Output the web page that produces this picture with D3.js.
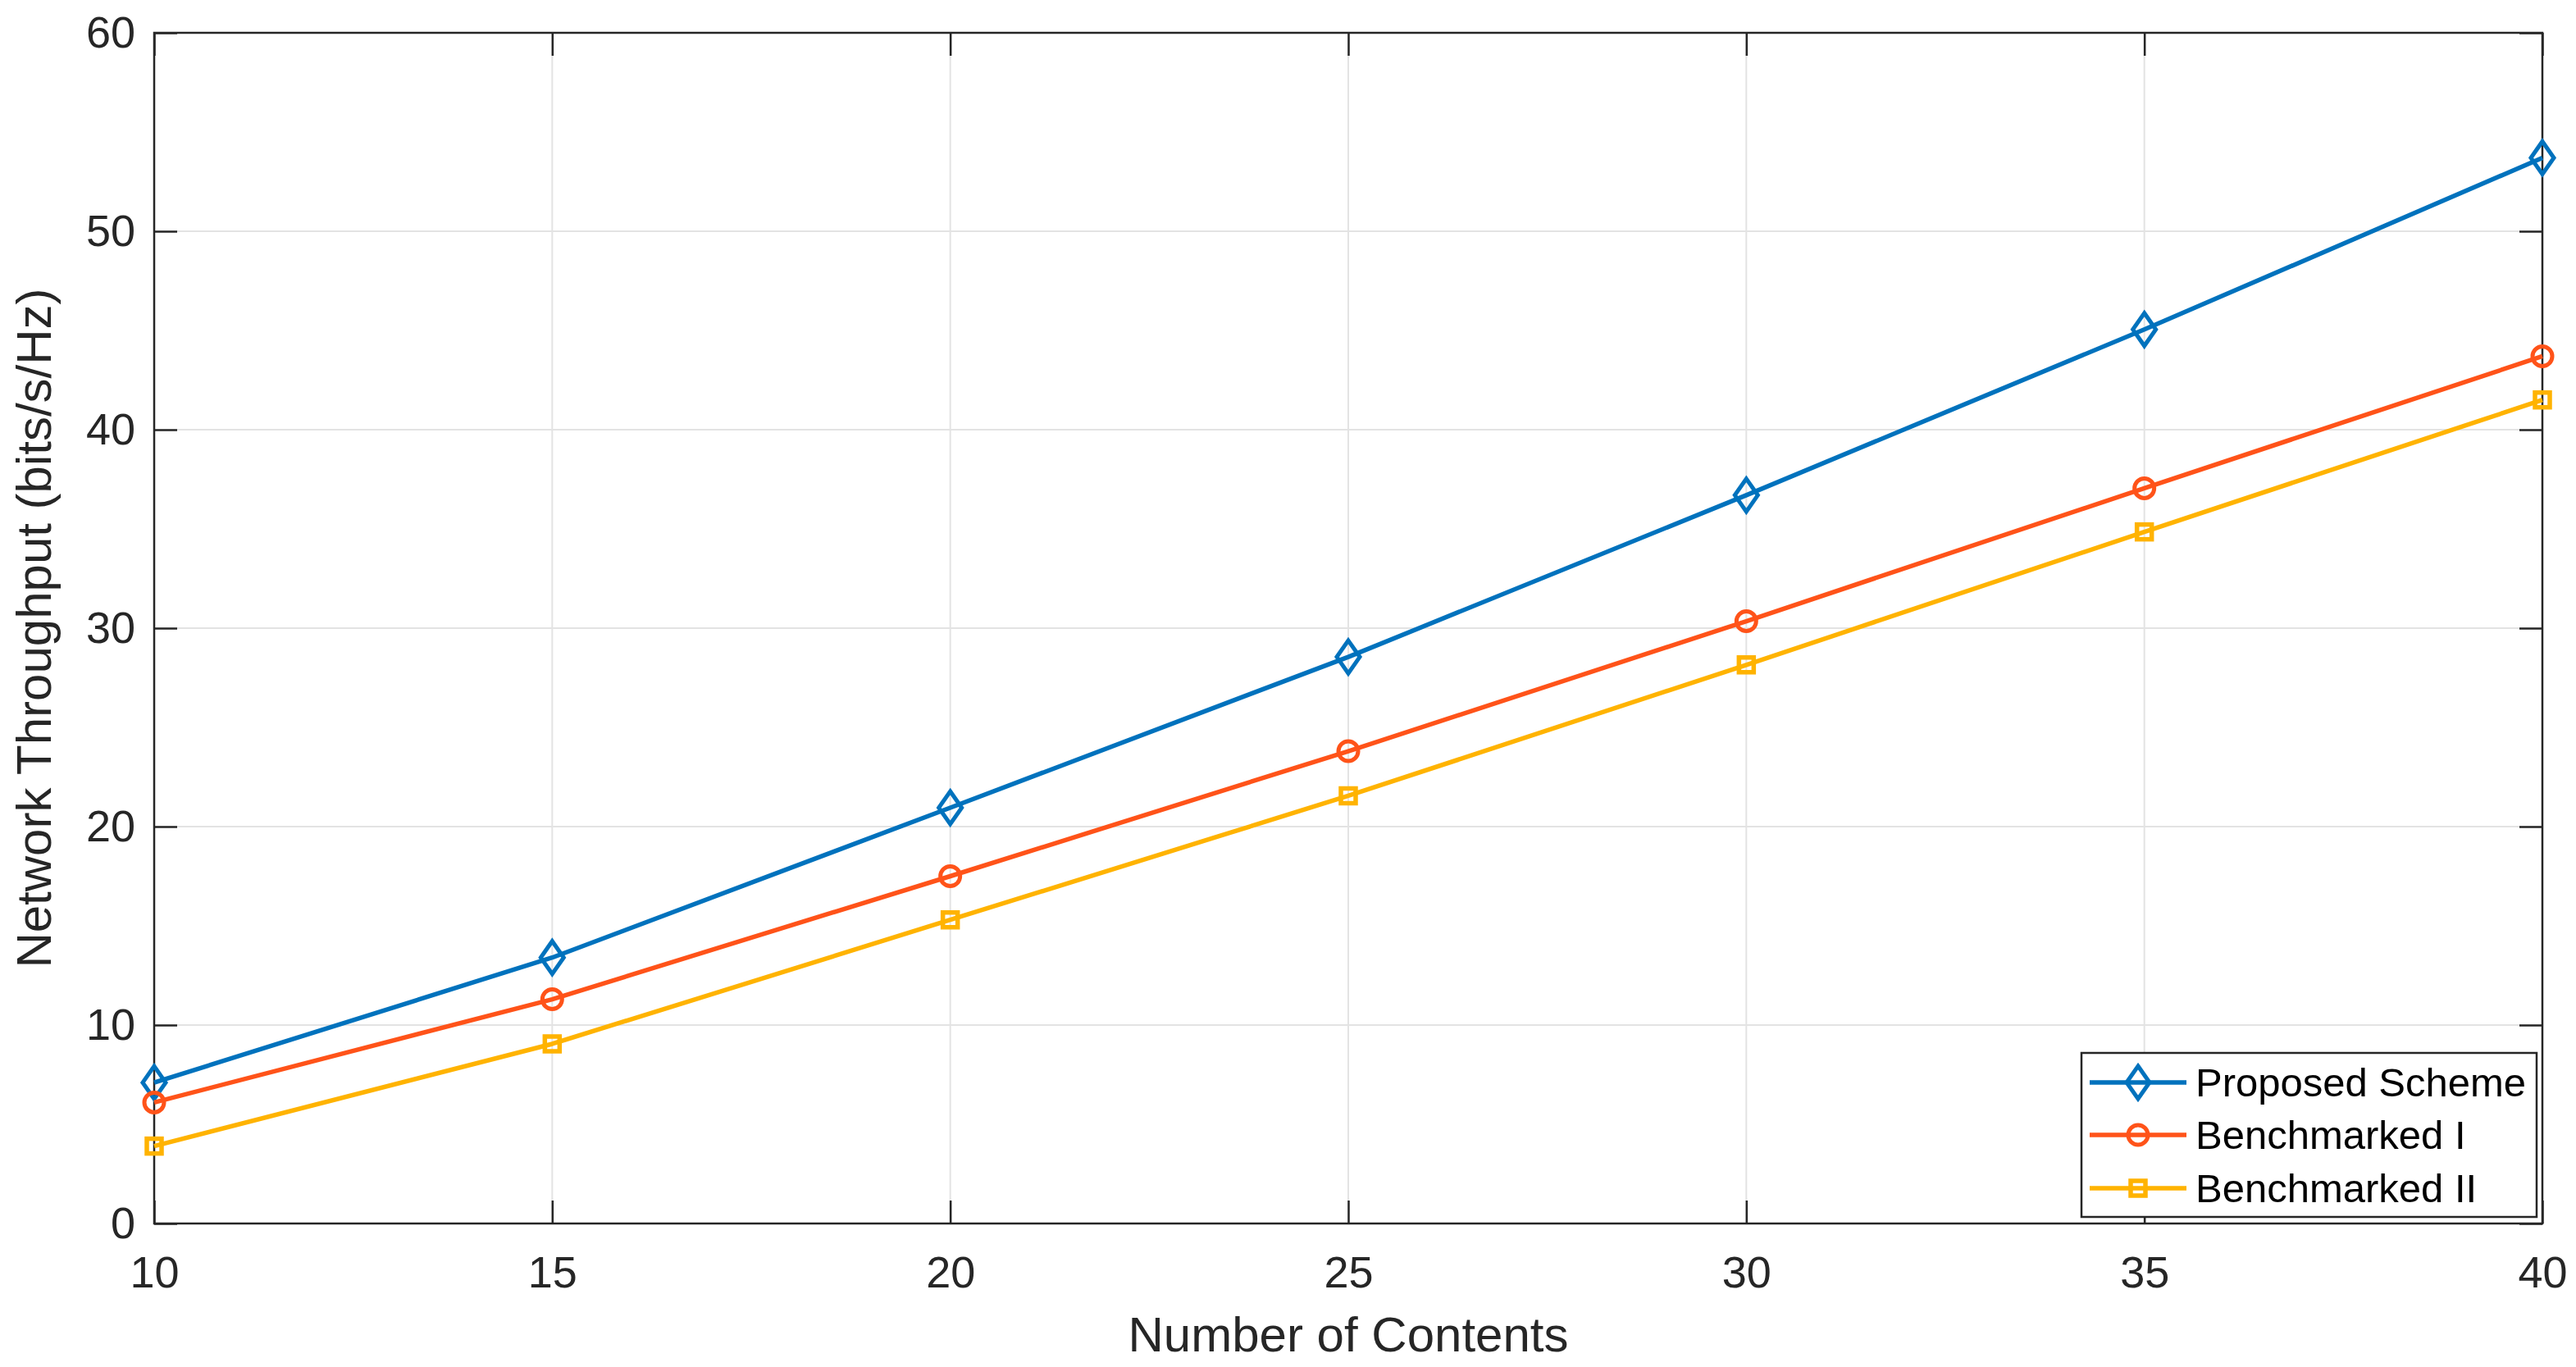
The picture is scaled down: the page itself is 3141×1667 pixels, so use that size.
<!DOCTYPE html>
<html>
<head>
<meta charset="utf-8">
<script src="https://cdn.jsdelivr.net/npm/d3@7"></script>
<style>
  html, body { margin: 0; padding: 0; background: #fff; }
  svg { display: block; font-family: "Liberation Sans", Arial, Helvetica, sans-serif; }
</style>
</head>
<body>
<svg id="chart" width="3141" height="1667"></svg>
<script>
// ---- data ----
const contents = [10, 15, 20, 25, 30, 35, 40];
const proposedScheme = [7.1, 13.4, 20.95, 28.55, 36.7, 45.05, 53.7];
const benchmarkedI = [6.1, 11.3, 17.5, 23.8, 30.35, 37.05, 43.7];
const benchmarkedII = [3.9, 9.05, 15.3, 21.55, 28.15, 34.85, 41.5];
const seriesNames = ["Proposed Scheme", "Benchmarked I", "Benchmarked II"];
const xTicks = [10, 15, 20, 25, 30, 35, 40];
const yTicks = [0, 10, 20, 30, 40, 50, 60];
const xLabel = "Number of Contents";
const yLabel = "Network Throughput (bits/s/Hz)";

// ---- styles ----
const colors = ["#0072BD", "#FF5319", "#FFB300"];
const markers = ["diamond", "circle", "square"];

const svg = d3.select("#chart");
const L = 188, R = 3100, T = 40, B = 1492;

const x = d3.scaleLinear().domain([10, 40]).range([L, R]);
const y = d3.scaleLinear().domain([0, 60]).range([B, T]);

// grid
const grid = svg.append("g");
grid.selectAll(".gx").data(xTicks).enter().append("line")
  .attr("x1", d => x(d)).attr("x2", d => x(d)).attr("y1", T).attr("y2", B)
  .attr("stroke", "#e3e3e3").attr("stroke-width", 2);
grid.selectAll(".gy").data(yTicks).enter().append("line")
  .attr("y1", d => y(d)).attr("y2", d => y(d)).attr("x1", L).attr("x2", R)
  .attr("stroke", "#e3e3e3").attr("stroke-width", 2);

// axes (ticks inside, all four sides)
const tickLen = 28;
const axStyle = g => {
  g.selectAll(".domain").remove();
  g.selectAll(".tick line").attr("stroke", "#262626").attr("stroke-width", 2.5);
  g.selectAll(".tick text").attr("fill", "#262626").style("font-size", "54px");
};
svg.append("g").attr("transform", `translate(0,${B})`)
  .call(d3.axisBottom(x).tickValues(xTicks).tickSize(-tickLen).tickPadding(40).tickFormat(d3.format("d")))
  .call(axStyle);
svg.append("g").attr("transform", `translate(0,${T})`)
  .call(d3.axisTop(x).tickValues(xTicks).tickSize(-tickLen).tickFormat(""))
  .call(axStyle);
svg.append("g").attr("transform", `translate(${L},0)`)
  .call(d3.axisLeft(y).tickValues(yTicks).tickSize(-tickLen).tickPadding(23).tickFormat(d3.format("d")))
  .call(axStyle);
svg.append("g").attr("transform", `translate(${R},0)`)
  .call(d3.axisRight(y).tickValues(yTicks).tickSize(-tickLen).tickFormat(""))
  .call(axStyle);

// box
svg.append("rect").attr("x", L).attr("y", T).attr("width", R - L).attr("height", B - T)
  .attr("fill", "none").attr("stroke", "#262626").attr("stroke-width", 2.5);

// marker drawing
function drawMarker(g, type, color) {
  if (type === "diamond") {
    g.append("path").attr("d", "M0,-20L14,0L0,20L-14,0Z")
      .attr("fill", "none").attr("stroke", color).attr("stroke-width", 5);
  } else if (type === "circle") {
    g.append("circle").attr("r", 12)
      .attr("fill", "none").attr("stroke", color).attr("stroke-width", 5);
  } else {
    g.append("rect").attr("x", -9).attr("y", -9).attr("width", 18).attr("height", 18)
      .attr("fill", "none").attr("stroke", color).attr("stroke-width", 5.5);
  }
}

const allSeries = [proposedScheme, benchmarkedI, benchmarkedII];
const line = d3.line().x((d, i) => x(contents[i])).y(d => y(d));

allSeries.forEach((vals, si) => {
  svg.append("path").datum(vals)
    .attr("d", line).attr("fill", "none")
    .attr("stroke", colors[si]).attr("stroke-width", 5.5).attr("stroke-linejoin", "round");
  vals.forEach((v, i) => {
    const g = svg.append("g").attr("transform", `translate(${x(contents[i])},${y(v)})`);
    drawMarker(g, markers[si], colors[si]);
  });
});

// axis titles
svg.append("text").attr("x", (L + R) / 2).attr("y", 1648)
  .attr("text-anchor", "middle").attr("fill", "#262626")
  .style("font-size", "60px").text(xLabel);
svg.append("text")
  .attr("transform", `translate(62,${(T + B) / 2}) rotate(-90)`)
  .attr("text-anchor", "middle").attr("fill", "#262626")
  .style("font-size", "60px").text(yLabel);

// legend
const lg = svg.append("g");
lg.append("rect").attr("x", 2538).attr("y", 1284).attr("width", 555).attr("height", 200)
  .attr("fill", "#fff").attr("stroke", "#262626").attr("stroke-width", 2.5);
const rowY = [1320, 1384, 1449];
seriesNames.forEach((name, si) => {
  lg.append("line").attr("x1", 2548).attr("x2", 2666).attr("y1", rowY[si]).attr("y2", rowY[si])
    .attr("stroke", colors[si]).attr("stroke-width", 5.5);
  const g = lg.append("g").attr("transform", `translate(2607,${rowY[si]})`);
  drawMarker(g, markers[si], colors[si]);
  lg.append("text").attr("x", 2677).attr("y", rowY[si]).attr("dy", "0.35em")
    .attr("fill", "#000").style("font-size", "49px").text(name);
});
</script>
</body>
</html>
